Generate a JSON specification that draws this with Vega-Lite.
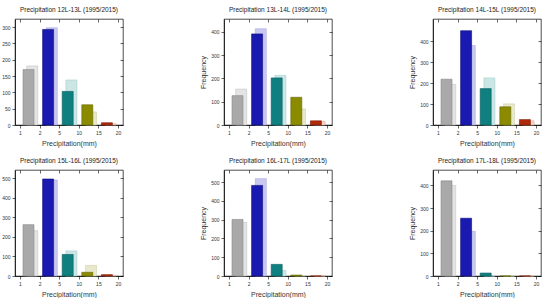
{
  "$schema": "https://vega.github.io/schema/vega-lite/v6.json",
  "padding": {"left": -10, "top": 6, "right": 0, "bottom": 0},
  "background": "white",
  "config": {
    "font": "Liberation Sans",
    "view": {"stroke": "#000000", "strokeWidth": 0.7},
    "axis": {"labelFontSize": 5, "titleFontSize": 7, "titleFontWeight": "normal", "labelColor": "#333333", "titleColor": "#333333", "tickColor": "#000000", "domainColor": "#000000", "domainWidth": 0.7, "tickWidth": 0.6, "tickSize": 3, "grid": false, "labelPadding": 2},
    "title": {"fontSize": 6.5, "fontWeight": "normal", "color": "#222222", "offset": 5}
  },
  "data": {"values": [
    {"p": "12L-13L", "b": 0, "k": "obs", "v": 170}, {"p": "12L-13L", "b": 0, "k": "hat", "v": 181},
    {"p": "12L-13L", "b": 1, "k": "obs", "v": 293}, {"p": "12L-13L", "b": 1, "k": "hat", "v": 298},
    {"p": "12L-13L", "b": 2, "k": "obs", "v": 103}, {"p": "12L-13L", "b": 2, "k": "hat", "v": 138},
    {"p": "12L-13L", "b": 3, "k": "obs", "v": 62}, {"p": "12L-13L", "b": 3, "k": "hat", "v": 40},
    {"p": "12L-13L", "b": 4, "k": "obs", "v": 7}, {"p": "12L-13L", "b": 4, "k": "hat", "v": 4},
    {"p": "13L-14L", "b": 0, "k": "obs", "v": 126}, {"p": "13L-14L", "b": 0, "k": "hat", "v": 154},
    {"p": "13L-14L", "b": 1, "k": "obs", "v": 391}, {"p": "13L-14L", "b": 1, "k": "hat", "v": 413},
    {"p": "13L-14L", "b": 2, "k": "obs", "v": 202}, {"p": "13L-14L", "b": 2, "k": "hat", "v": 213},
    {"p": "13L-14L", "b": 3, "k": "obs", "v": 119}, {"p": "13L-14L", "b": 3, "k": "hat", "v": 69},
    {"p": "13L-14L", "b": 4, "k": "obs", "v": 18}, {"p": "13L-14L", "b": 4, "k": "hat", "v": 16},
    {"p": "14L-15L", "b": 0, "k": "obs", "v": 219}, {"p": "14L-15L", "b": 0, "k": "hat", "v": 194},
    {"p": "14L-15L", "b": 1, "k": "obs", "v": 451}, {"p": "14L-15L", "b": 1, "k": "hat", "v": 380},
    {"p": "14L-15L", "b": 2, "k": "obs", "v": 174}, {"p": "14L-15L", "b": 2, "k": "hat", "v": 225},
    {"p": "14L-15L", "b": 3, "k": "obs", "v": 87}, {"p": "14L-15L", "b": 3, "k": "hat", "v": 101},
    {"p": "14L-15L", "b": 4, "k": "obs", "v": 26}, {"p": "14L-15L", "b": 4, "k": "hat", "v": 20},
    {"p": "15L-16L", "b": 0, "k": "obs", "v": 262}, {"p": "15L-16L", "b": 0, "k": "hat", "v": 231},
    {"p": "15L-16L", "b": 1, "k": "obs", "v": 495}, {"p": "15L-16L", "b": 1, "k": "hat", "v": 490},
    {"p": "15L-16L", "b": 2, "k": "obs", "v": 110}, {"p": "15L-16L", "b": 2, "k": "hat", "v": 128},
    {"p": "15L-16L", "b": 3, "k": "obs", "v": 19}, {"p": "15L-16L", "b": 3, "k": "hat", "v": 54},
    {"p": "15L-16L", "b": 4, "k": "obs", "v": 7}, {"p": "15L-16L", "b": 4, "k": "hat", "v": 3},
    {"p": "16L-17L", "b": 0, "k": "obs", "v": 301}, {"p": "16L-17L", "b": 0, "k": "hat", "v": 285},
    {"p": "16L-17L", "b": 1, "k": "obs", "v": 482}, {"p": "16L-17L", "b": 1, "k": "hat", "v": 518},
    {"p": "16L-17L", "b": 2, "k": "obs", "v": 62}, {"p": "16L-17L", "b": 2, "k": "hat", "v": 30},
    {"p": "16L-17L", "b": 3, "k": "obs", "v": 5}, {"p": "16L-17L", "b": 3, "k": "hat", "v": 2},
    {"p": "16L-17L", "b": 4, "k": "obs", "v": 0}, {"p": "16L-17L", "b": 4, "k": "hat", "v": 0},
    {"p": "17L-18L", "b": 0, "k": "obs", "v": 420}, {"p": "17L-18L", "b": 0, "k": "hat", "v": 400},
    {"p": "17L-18L", "b": 1, "k": "obs", "v": 255}, {"p": "17L-18L", "b": 1, "k": "hat", "v": 197},
    {"p": "17L-18L", "b": 2, "k": "obs", "v": 13}, {"p": "17L-18L", "b": 2, "k": "hat", "v": 0},
    {"p": "17L-18L", "b": 3, "k": "obs", "v": 0}, {"p": "17L-18L", "b": 3, "k": "hat", "v": 0},
    {"p": "17L-18L", "b": 4, "k": "obs", "v": 0}, {"p": "17L-18L", "b": 4, "k": "hat", "v": 0}
  ]},
  "columns": 3,
  "bounds": "flush",
  "spacing": {"row": 45, "column": 101},
  "concat": [
    {
      "title": "Precipitation 12L-13L (1995/2015)",
      "width": 108, "height": 106,
      "transform": [{"filter": "datum.p == '12L-13L'"}],
      "encoding": {
        "x": {"field": "b", "type": "quantitative", "scale": {"domain": [-0.5, 4.5], "nice": false, "zero": false}, "axis": {"values": [-0.5, 0.5, 1.5, 2.5, 3.5, 4.5], "labelExpr": "['1','2','5','10','15','20'][round(datum.value + 0.5)]", "title": "Precipitation(mm)"}},
        "y": {"field": "v", "type": "quantitative", "scale": {"domain": [0, 325], "nice": false}, "axis": {"values": [0, 50, 100, 150, 200, 250, 300], "title": "Frequency", "titlePadding": 4}}
      },
      "layer": [
        {"transform": [{"filter": "datum.k == 'hat'"}], "mark": {"type": "bar", "width": 11, "xOffset": 2.4, "strokeWidth": 0.6},
         "encoding": {"fill": {"field": "b", "type": "nominal", "scale": {"domain": [0, 1, 2, 3, 4], "range": ["#e4e4e4", "#c9c9f0", "#cce6e6", "#e8e8cc", "#f2d2c8"]}, "legend": null},
                      "stroke": {"field": "b", "type": "nominal", "scale": {"domain": [0, 1, 2, 3, 4], "range": ["#c4c4c4", "#a8a8e0", "#a8d0d0", "#d0d0a8", "#e0b0a0"]}, "legend": null}}},
        {"transform": [{"filter": "datum.k == 'obs'"}], "mark": {"type": "bar", "width": 11, "xOffset": -1.3, "strokeWidth": 0.6},
         "encoding": {"fill": {"field": "b", "type": "nominal", "scale": {"domain": [0, 1, 2, 3, 4], "range": ["#a9a9a9", "#1a1ab0", "#0f7f7f", "#8b8b00", "#b02a0a"]}, "legend": null},
                      "stroke": {"field": "b", "type": "nominal", "scale": {"domain": [0, 1, 2, 3, 4], "range": ["#8a8a8a", "#0c0c80", "#0a5c5c", "#666600", "#801e06"]}, "legend": null},
                      "y": {"field": "v", "type": "quantitative", "axis": {"orient": "right", "values": [0, 50, 100, 150, 200, 250, 300], "labels": false, "title": null, "tickSize": -3, "domain": false}},
                      "x": {"field": "b", "type": "quantitative", "axis": {"orient": "top", "values": [-0.5, 0.5, 1.5, 2.5, 3.5, 4.5], "labels": false, "title": null, "tickSize": -3, "domain": false}}}}
      ],
      "resolve": {"scale": {"fill": "independent", "stroke": "independent"}, "axis": {"x": "independent", "y": "independent"}}
    },
    {
      "title": "Precipitation 13L-14L (1995/2015)",
      "width": 108, "height": 106,
      "transform": [{"filter": "datum.p == '13L-14L'"}],
      "encoding": {
        "x": {"field": "b", "type": "quantitative", "scale": {"domain": [-0.5, 4.5], "nice": false, "zero": false}, "axis": {"values": [-0.5, 0.5, 1.5, 2.5, 3.5, 4.5], "labelExpr": "['1','2','5','10','15','20'][round(datum.value + 0.5)]", "title": "Precipitation(mm)"}},
        "y": {"field": "v", "type": "quantitative", "scale": {"domain": [0, 455], "nice": false}, "axis": {"values": [0, 100, 200, 300, 400], "title": "Frequency", "titlePadding": 4}}
      },
      "layer": [
        {"transform": [{"filter": "datum.k == 'hat'"}], "mark": {"type": "bar", "width": 11, "xOffset": 2.4, "strokeWidth": 0.6},
         "encoding": {"fill": {"field": "b", "type": "nominal", "scale": {"domain": [0, 1, 2, 3, 4], "range": ["#e4e4e4", "#c9c9f0", "#cce6e6", "#e8e8cc", "#f2d2c8"]}, "legend": null},
                      "stroke": {"field": "b", "type": "nominal", "scale": {"domain": [0, 1, 2, 3, 4], "range": ["#c4c4c4", "#a8a8e0", "#a8d0d0", "#d0d0a8", "#e0b0a0"]}, "legend": null}}},
        {"transform": [{"filter": "datum.k == 'obs'"}], "mark": {"type": "bar", "width": 11, "xOffset": -1.3, "strokeWidth": 0.6},
         "encoding": {"fill": {"field": "b", "type": "nominal", "scale": {"domain": [0, 1, 2, 3, 4], "range": ["#a9a9a9", "#1a1ab0", "#0f7f7f", "#8b8b00", "#b02a0a"]}, "legend": null},
                      "stroke": {"field": "b", "type": "nominal", "scale": {"domain": [0, 1, 2, 3, 4], "range": ["#8a8a8a", "#0c0c80", "#0a5c5c", "#666600", "#801e06"]}, "legend": null},
                      "y": {"field": "v", "type": "quantitative", "axis": {"orient": "right", "values": [0, 100, 200, 300, 400], "labels": false, "title": null, "tickSize": -3, "domain": false}},
                      "x": {"field": "b", "type": "quantitative", "axis": {"orient": "top", "values": [-0.5, 0.5, 1.5, 2.5, 3.5, 4.5], "labels": false, "title": null, "tickSize": -3, "domain": false}}}}
      ],
      "resolve": {"scale": {"fill": "independent", "stroke": "independent"}, "axis": {"x": "independent", "y": "independent"}}
    },
    {
      "title": "Precipitation 14L-15L (1995/2015)",
      "width": 108, "height": 106,
      "transform": [{"filter": "datum.p == '14L-15L'"}],
      "encoding": {
        "x": {"field": "b", "type": "quantitative", "scale": {"domain": [-0.5, 4.5], "nice": false, "zero": false}, "axis": {"values": [-0.5, 0.5, 1.5, 2.5, 3.5, 4.5], "labelExpr": "['1','2','5','10','15','20'][round(datum.value + 0.5)]", "title": "Precipitation(mm)"}},
        "y": {"field": "v", "type": "quantitative", "scale": {"domain": [0, 507], "nice": false}, "axis": {"values": [0, 100, 200, 300, 400], "title": "Frequency", "titlePadding": 4}}
      },
      "layer": [
        {"transform": [{"filter": "datum.k == 'hat'"}], "mark": {"type": "bar", "width": 11, "xOffset": 2.4, "strokeWidth": 0.6},
         "encoding": {"fill": {"field": "b", "type": "nominal", "scale": {"domain": [0, 1, 2, 3, 4], "range": ["#e4e4e4", "#c9c9f0", "#cce6e6", "#e8e8cc", "#f2d2c8"]}, "legend": null},
                      "stroke": {"field": "b", "type": "nominal", "scale": {"domain": [0, 1, 2, 3, 4], "range": ["#c4c4c4", "#a8a8e0", "#a8d0d0", "#d0d0a8", "#e0b0a0"]}, "legend": null}}},
        {"transform": [{"filter": "datum.k == 'obs'"}], "mark": {"type": "bar", "width": 11, "xOffset": -1.3, "strokeWidth": 0.6},
         "encoding": {"fill": {"field": "b", "type": "nominal", "scale": {"domain": [0, 1, 2, 3, 4], "range": ["#a9a9a9", "#1a1ab0", "#0f7f7f", "#8b8b00", "#b02a0a"]}, "legend": null},
                      "stroke": {"field": "b", "type": "nominal", "scale": {"domain": [0, 1, 2, 3, 4], "range": ["#8a8a8a", "#0c0c80", "#0a5c5c", "#666600", "#801e06"]}, "legend": null},
                      "y": {"field": "v", "type": "quantitative", "axis": {"orient": "right", "values": [0, 100, 200, 300, 400], "labels": false, "title": null, "tickSize": -3, "domain": false}},
                      "x": {"field": "b", "type": "quantitative", "axis": {"orient": "top", "values": [-0.5, 0.5, 1.5, 2.5, 3.5, 4.5], "labels": false, "title": null, "tickSize": -3, "domain": false}}}}
      ],
      "resolve": {"scale": {"fill": "independent", "stroke": "independent"}, "axis": {"x": "independent", "y": "independent"}}
    },
    {
      "title": "Precipitation 15L-16L (1995/2015)",
      "width": 108, "height": 106,
      "transform": [{"filter": "datum.p == '15L-16L'"}],
      "encoding": {
        "x": {"field": "b", "type": "quantitative", "scale": {"domain": [-0.5, 4.5], "nice": false, "zero": false}, "axis": {"values": [-0.5, 0.5, 1.5, 2.5, 3.5, 4.5], "labelExpr": "['1','2','5','10','15','20'][round(datum.value + 0.5)]", "title": "Precipitation(mm)"}},
        "y": {"field": "v", "type": "quantitative", "scale": {"domain": [0, 541], "nice": false}, "axis": {"values": [0, 100, 200, 300, 400, 500], "title": "Frequency", "titlePadding": 4}}
      },
      "layer": [
        {"transform": [{"filter": "datum.k == 'hat'"}], "mark": {"type": "bar", "width": 11, "xOffset": 2.4, "strokeWidth": 0.6},
         "encoding": {"fill": {"field": "b", "type": "nominal", "scale": {"domain": [0, 1, 2, 3, 4], "range": ["#e4e4e4", "#c9c9f0", "#cce6e6", "#e8e8cc", "#f2d2c8"]}, "legend": null},
                      "stroke": {"field": "b", "type": "nominal", "scale": {"domain": [0, 1, 2, 3, 4], "range": ["#c4c4c4", "#a8a8e0", "#a8d0d0", "#d0d0a8", "#e0b0a0"]}, "legend": null}}},
        {"transform": [{"filter": "datum.k == 'obs'"}], "mark": {"type": "bar", "width": 11, "xOffset": -1.3, "strokeWidth": 0.6},
         "encoding": {"fill": {"field": "b", "type": "nominal", "scale": {"domain": [0, 1, 2, 3, 4], "range": ["#a9a9a9", "#1a1ab0", "#0f7f7f", "#8b8b00", "#b02a0a"]}, "legend": null},
                      "stroke": {"field": "b", "type": "nominal", "scale": {"domain": [0, 1, 2, 3, 4], "range": ["#8a8a8a", "#0c0c80", "#0a5c5c", "#666600", "#801e06"]}, "legend": null},
                      "y": {"field": "v", "type": "quantitative", "axis": {"orient": "right", "values": [0, 100, 200, 300, 400, 500], "labels": false, "title": null, "tickSize": -3, "domain": false}},
                      "x": {"field": "b", "type": "quantitative", "axis": {"orient": "top", "values": [-0.5, 0.5, 1.5, 2.5, 3.5, 4.5], "labels": false, "title": null, "tickSize": -3, "domain": false}}}}
      ],
      "resolve": {"scale": {"fill": "independent", "stroke": "independent"}, "axis": {"x": "independent", "y": "independent"}}
    },
    {
      "title": "Precipitation 16L-17L (1995/2015)",
      "width": 108, "height": 106,
      "transform": [{"filter": "datum.p == '16L-17L'"}],
      "encoding": {
        "x": {"field": "b", "type": "quantitative", "scale": {"domain": [-0.5, 4.5], "nice": false, "zero": false}, "axis": {"values": [-0.5, 0.5, 1.5, 2.5, 3.5, 4.5], "labelExpr": "['1','2','5','10','15','20'][round(datum.value + 0.5)]", "title": "Precipitation(mm)"}},
        "y": {"field": "v", "type": "quantitative", "scale": {"domain": [0, 564], "nice": false}, "axis": {"values": [0, 100, 200, 300, 400, 500], "title": "Frequency", "titlePadding": 4}}
      },
      "layer": [
        {"transform": [{"filter": "datum.k == 'hat'"}], "mark": {"type": "bar", "width": 11, "xOffset": 2.4, "strokeWidth": 0.6},
         "encoding": {"fill": {"field": "b", "type": "nominal", "scale": {"domain": [0, 1, 2, 3, 4], "range": ["#e4e4e4", "#c9c9f0", "#cce6e6", "#e8e8cc", "#f2d2c8"]}, "legend": null},
                      "stroke": {"field": "b", "type": "nominal", "scale": {"domain": [0, 1, 2, 3, 4], "range": ["#c4c4c4", "#a8a8e0", "#a8d0d0", "#d0d0a8", "#e0b0a0"]}, "legend": null}}},
        {"transform": [{"filter": "datum.k == 'obs'"}], "mark": {"type": "bar", "width": 11, "xOffset": -1.3, "strokeWidth": 0.6},
         "encoding": {"fill": {"field": "b", "type": "nominal", "scale": {"domain": [0, 1, 2, 3, 4], "range": ["#a9a9a9", "#1a1ab0", "#0f7f7f", "#8b8b00", "#b02a0a"]}, "legend": null},
                      "stroke": {"field": "b", "type": "nominal", "scale": {"domain": [0, 1, 2, 3, 4], "range": ["#8a8a8a", "#0c0c80", "#0a5c5c", "#666600", "#801e06"]}, "legend": null},
                      "y": {"field": "v", "type": "quantitative", "axis": {"orient": "right", "values": [0, 100, 200, 300, 400, 500], "labels": false, "title": null, "tickSize": -3, "domain": false}},
                      "x": {"field": "b", "type": "quantitative", "axis": {"orient": "top", "values": [-0.5, 0.5, 1.5, 2.5, 3.5, 4.5], "labels": false, "title": null, "tickSize": -3, "domain": false}}}}
      ],
      "resolve": {"scale": {"fill": "independent", "stroke": "independent"}, "axis": {"x": "independent", "y": "independent"}}
    },
    {
      "title": "Precipitation 17L-18L (1995/2015)",
      "width": 108, "height": 106,
      "transform": [{"filter": "datum.p == '17L-18L'"}],
      "encoding": {
        "x": {"field": "b", "type": "quantitative", "scale": {"domain": [-0.5, 4.5], "nice": false, "zero": false}, "axis": {"values": [-0.5, 0.5, 1.5, 2.5, 3.5, 4.5], "labelExpr": "['1','2','5','10','15','20'][round(datum.value + 0.5)]", "title": "Precipitation(mm)"}},
        "y": {"field": "v", "type": "quantitative", "scale": {"domain": [0, 468], "nice": false}, "axis": {"values": [0, 100, 200, 300, 400], "title": "Frequency", "titlePadding": 4}}
      },
      "layer": [
        {"transform": [{"filter": "datum.k == 'hat'"}], "mark": {"type": "bar", "width": 11, "xOffset": 2.4, "strokeWidth": 0.6},
         "encoding": {"fill": {"field": "b", "type": "nominal", "scale": {"domain": [0, 1, 2, 3, 4], "range": ["#e4e4e4", "#c9c9f0", "#cce6e6", "#e8e8cc", "#f2d2c8"]}, "legend": null},
                      "stroke": {"field": "b", "type": "nominal", "scale": {"domain": [0, 1, 2, 3, 4], "range": ["#c4c4c4", "#a8a8e0", "#a8d0d0", "#d0d0a8", "#e0b0a0"]}, "legend": null}}},
        {"transform": [{"filter": "datum.k == 'obs'"}], "mark": {"type": "bar", "width": 11, "xOffset": -1.3, "strokeWidth": 0.6},
         "encoding": {"fill": {"field": "b", "type": "nominal", "scale": {"domain": [0, 1, 2, 3, 4], "range": ["#a9a9a9", "#1a1ab0", "#0f7f7f", "#8b8b00", "#b02a0a"]}, "legend": null},
                      "stroke": {"field": "b", "type": "nominal", "scale": {"domain": [0, 1, 2, 3, 4], "range": ["#8a8a8a", "#0c0c80", "#0a5c5c", "#666600", "#801e06"]}, "legend": null},
                      "y": {"field": "v", "type": "quantitative", "axis": {"orient": "right", "values": [0, 100, 200, 300, 400], "labels": false, "title": null, "tickSize": -3, "domain": false}},
                      "x": {"field": "b", "type": "quantitative", "axis": {"orient": "top", "values": [-0.5, 0.5, 1.5, 2.5, 3.5, 4.5], "labels": false, "title": null, "tickSize": -3, "domain": false}}}}
      ],
      "resolve": {"scale": {"fill": "independent", "stroke": "independent"}, "axis": {"x": "independent", "y": "independent"}}
    }
  ]
}
